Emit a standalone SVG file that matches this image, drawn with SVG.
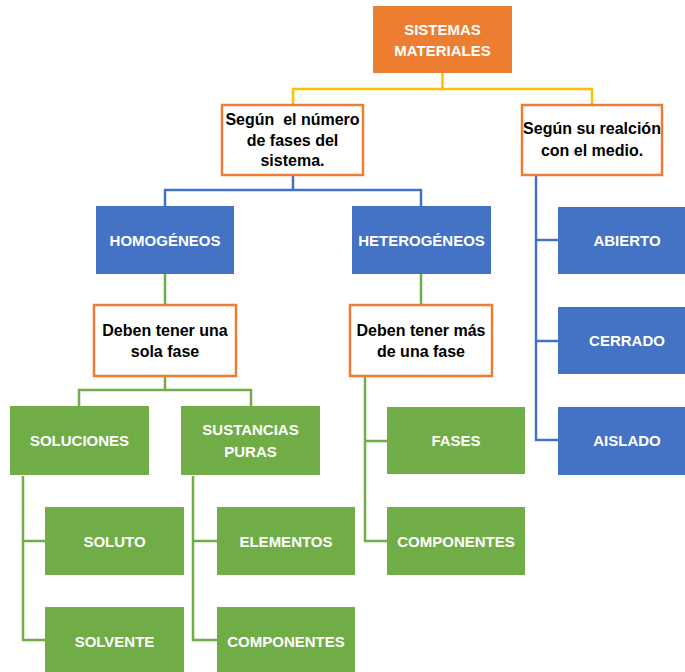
<svg xmlns="http://www.w3.org/2000/svg" width="685" height="672" viewBox="0 0 685 672">
<style>
.o{fill:#ED7D31}
.w{fill:#FFFFFF;stroke:#ED7D31;stroke-width:2.5}
.b{fill:#4472C4}
.g{fill:#70AD47}
text{font-family:"Liberation Sans",Arial,sans-serif;font-weight:bold;font-size:15px;text-anchor:middle}
.lt{fill:#FFFFFF}
.dk{fill:#000000;font-size:16px}
.cy{fill:none;stroke:#FFC000;stroke-width:2.5}
.cb{fill:none;stroke:#4472C4;stroke-width:2.5}
.cg{fill:none;stroke:#70AD47;stroke-width:2.5}
</style>
<rect width="685" height="672" fill="#FFFFFF"/>
<g id="connectors">
<path class="cy" d="M442.5 73 V89 M293 104 V89 H592 V104"/>
<path class="cb" d="M293 176 V190 M165 206 V190 H421 V206"/>
<path class="cb" d="M536 176 V440 H558 M536 240 H558 M536 341 H558"/>
<path class="cg" d="M165 274 V304 M421 274 V304"/>
<path class="cg" d="M165 376 V390 M79 406 V390 H251 V406"/>
<path class="cg" d="M23 476 V640 H45 M23 541 H45"/>
<path class="cg" d="M193 476 V640 H217 M193 541 H217"/>
<path class="cg" d="M365 377 V541 H387 M365 441 H387"/>
</g>
<g id="n-sistemas"><rect class="o" x="373" y="6" width="139" height="67"/><text class="lt" x="442.5" y="35">SISTEMAS</text><text class="lt" x="442.5" y="56">MATERIALES</text></g>
<g id="n-fases"><rect class="w" x="222" y="105" width="141" height="70"/><text class="dk" x="292.5" y="124.5">Según &#160;el número</text><text class="dk" x="292.5" y="145.5">de fases del</text><text class="dk" x="292.5" y="166">sistema.</text></g>
<g id="n-medio"><rect class="w" x="522" y="105" width="140" height="70"/><text class="dk" x="592" y="134">Según su realción</text><text class="dk" x="592" y="156">con el medio.</text></g>
<g id="n-homo"><rect class="b" x="96" y="206" width="138" height="68"/><text class="lt" x="165" y="245.5">HOMOGÉNEOS</text></g>
<g id="n-hetero"><rect class="b" x="352" y="206" width="139" height="68"/><text class="lt" x="421.5" y="245.5">HETEROGÉNEOS</text></g>
<g id="n-abierto"><rect class="b" x="558" y="207" width="139" height="67"/><text class="lt" x="627" y="245.5">ABIERTO</text></g>
<g id="n-cerrado"><rect class="b" x="558" y="307" width="139" height="67"/><text class="lt" x="627" y="345.5">CERRADO</text></g>
<g id="n-aislado"><rect class="b" x="558" y="407" width="139" height="68"/><text class="lt" x="627" y="446">AISLADO</text></g>
<g id="n-unafase"><rect class="w" x="94" y="305" width="142" height="71"/><text class="dk" x="165" y="336">Deben tener una</text><text class="dk" x="165" y="357">sola fase</text></g>
<g id="n-masfase"><rect class="w" x="350" y="305" width="142" height="71"/><text class="dk" x="421" y="336">Deben tener más</text><text class="dk" x="421" y="357">de una fase</text></g>
<g id="n-soluciones"><rect class="g" x="10" y="406" width="139" height="69"/><text class="lt" x="79.5" y="445.5">SOLUCIONES</text></g>
<g id="n-sustancias"><rect class="g" x="181" y="406" width="139" height="69"/><text class="lt" x="250.5" y="435">SUSTANCIAS</text><text class="lt" x="250.5" y="457">PURAS</text></g>
<g id="n-fasesbox"><rect class="g" x="387" y="407" width="138" height="67"/><text class="lt" x="456" y="446">FASES</text></g>
<g id="n-componentes2"><rect class="g" x="387" y="507" width="138" height="68"/><text class="lt" x="456" y="546.5">COMPONENTES</text></g>
<g id="n-soluto"><rect class="g" x="45" y="507" width="139" height="68"/><text class="lt" x="114.5" y="546.5">SOLUTO</text></g>
<g id="n-elementos"><rect class="g" x="217" y="507" width="138" height="68"/><text class="lt" x="286" y="546.5">ELEMENTOS</text></g>
<g id="n-solvente"><rect class="g" x="45" y="607" width="139" height="68"/><text class="lt" x="114.5" y="646.5">SOLVENTE</text></g>
<g id="n-componentes1"><rect class="g" x="217" y="607" width="138" height="68"/><text class="lt" x="286" y="646.5">COMPONENTES</text></g>
</svg>
